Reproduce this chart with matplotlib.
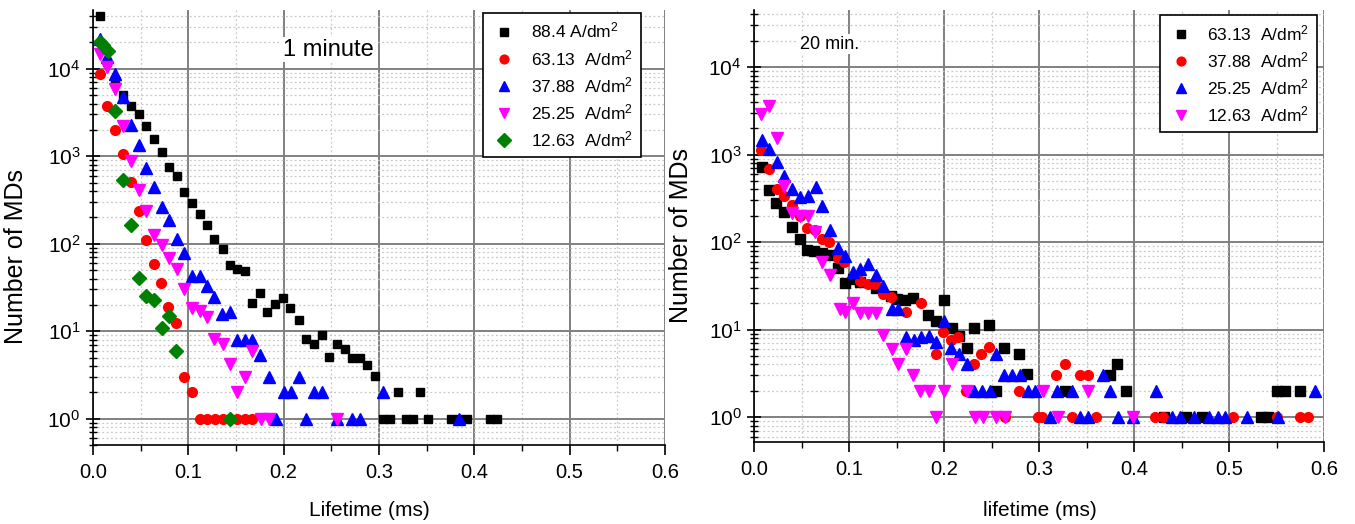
import numpy as np
import matplotlib
matplotlib.use('Agg')
import matplotlib.pyplot as plt
from matplotlib.ticker import LogLocator, MultipleLocator, NullFormatter

plt.rcParams['font.family'] = ['Liberation Sans', 'DejaVu Sans']
plt.rcParams['mathtext.default'] = 'regular'

# ---- left panel: 1 minute ----
x_884 = [0.007, 0.015, 0.023, 0.031, 0.040, 0.048, 0.056, 0.064, 0.072, 0.080,
         0.088, 0.096, 0.104, 0.112, 0.120, 0.127, 0.136, 0.144, 0.151, 0.159,
         0.167, 0.175, 0.183, 0.191, 0.199, 0.207, 0.216, 0.224, 0.232, 0.240,
         0.248, 0.256, 0.264, 0.272, 0.280, 0.288, 0.296, 0.304, 0.312, 0.320,
         0.328, 0.336, 0.343, 0.351, 0.376, 0.384, 0.392, 0.416, 0.424]
y_884 = [39800, 12000, 7400, 5000, 3800, 3000, 2240, 1590, 1120, 760,
         595, 390, 290, 220, 163, 112, 87, 57, 51, 49,
         21, 27, 16.6, 20.4, 23.8, 18.4, 13.4, 8.2, 7.1, 9.1,
         5.1, 7.2, 6.2, 5, 5, 4.1, 3.1, 1, 1, 2,
         1, 1, 2, 1, 1, 1, 1, 1, 1]

x_6313a = [0.007, 0.015, 0.023, 0.031, 0.040, 0.048, 0.056, 0.064, 0.071, 0.079,
           0.087, 0.095, 0.104, 0.112, 0.120, 0.128, 0.136, 0.144, 0.151, 0.159,
           0.167]
y_6313a = [8700, 3800, 2000, 1050, 510, 237, 109, 59, 36, 18.7,
           12.3, 3, 2, 1, 1, 1, 1, 1, 1, 1,
           1]

x_3788a = [0.007, 0.015, 0.023, 0.031, 0.040, 0.048, 0.056, 0.064, 0.072, 0.080,
           0.088, 0.096, 0.104, 0.112, 0.120, 0.127, 0.135, 0.144, 0.151, 0.159,
           0.167, 0.175, 0.185, 0.192, 0.200, 0.208, 0.216, 0.224, 0.232, 0.240,
           0.256, 0.272, 0.280, 0.304, 0.384]
y_3788a = [21800, 13600, 8700, 4700, 2300, 1340, 740, 450, 265, 185,
           114, 79, 43, 43, 33, 24.4, 15.7, 16.6, 8, 8,
           8, 5.3, 3, 1, 2, 2, 3, 1, 2, 2,
           1, 1, 1, 2, 1]

x_2525a = [0.007, 0.015, 0.023, 0.031, 0.040, 0.048, 0.056, 0.064, 0.072, 0.080,
           0.088, 0.096, 0.104, 0.112, 0.120, 0.127, 0.136, 0.144, 0.151, 0.159,
           0.167, 0.176, 0.185, 0.256]
y_2525a = [14900, 10500, 5900, 2240, 890, 410, 237, 126, 97, 69,
           51, 30, 18.3, 17, 14.4, 8.1, 7.1, 4.2, 2, 3,
           6, 1, 1, 1]

x_1263a = [0.007, 0.011, 0.016, 0.023, 0.032, 0.040, 0.048, 0.056, 0.064, 0.072,
           0.080, 0.087, 0.144]
y_1263a = [20000, 18500, 16000, 3250, 535, 163, 40.6, 25.5, 22.7, 11,
           15, 5.9, 1]

# ---- right panel: 20 min ----
x_6313b = [0.008, 0.016, 0.023, 0.032, 0.040, 0.048, 0.056, 0.063, 0.071, 0.079,
           0.088, 0.096, 0.104, 0.112, 0.128, 0.144, 0.150, 0.159, 0.167, 0.1835,
           0.1916, 0.200, 0.208, 0.216, 0.224, 0.232, 0.247, 0.255, 0.263, 0.279,
           0.287, 0.327, 0.375, 0.382, 0.391, 0.431, 0.455, 0.471, 0.534, 0.541,
           0.550, 0.559, 0.575]
y_6313b = [720, 395, 277, 222, 150, 110, 81, 79, 76, 72,
           51, 34, 38, 35, 30, 24, 22.5, 21.6, 23, 14.8,
           12.4, 21.7, 10.4, 8.5, 6.1, 10.4, 11.4, 2, 6.1, 5.2,
           3.1, 2, 3, 4.1, 2, 1, 1, 1, 1, 1,
           2, 2, 2]

x_3788b = [0.007, 0.016, 0.024, 0.032, 0.040, 0.048, 0.0555, 0.064, 0.071, 0.079,
           0.088, 0.095, 0.112, 0.120, 0.127, 0.136, 0.144, 0.160, 0.176, 0.192,
           0.199, 0.207, 0.215, 0.223, 0.232, 0.239, 0.247, 0.264, 0.279, 0.299,
           0.303, 0.318, 0.327, 0.335, 0.343, 0.351, 0.360, 0.422, 0.430, 0.504,
           0.550, 0.575, 0.583]
y_3788b = [1140, 690, 410, 333, 268, 200, 147, 139, 110, 100,
           66, 59, 36, 33, 33, 25.7, 23.7, 15.8, 20.3, 5.2,
           9.5, 7.7, 8.3, 2, 4.1, 5.2, 6.3, 1, 2, 1,
           1, 3, 4.1, 1, 3, 3, 1, 1, 1, 1,
           1, 1, 1]

x_2525b = [0.008, 0.016, 0.0245, 0.032, 0.040, 0.048, 0.057, 0.065, 0.072, 0.080,
           0.088, 0.096, 0.104, 0.112, 0.120, 0.128, 0.136, 0.145, 0.152, 0.160,
           0.168, 0.176, 0.1846, 0.192, 0.200, 0.207, 0.216, 0.224, 0.231, 0.240,
           0.248, 0.255, 0.263, 0.271, 0.280, 0.288, 0.296, 0.311, 0.319, 0.335,
           0.343, 0.351, 0.367, 0.375, 0.383, 0.399, 0.423, 0.440, 0.448, 0.463,
           0.479, 0.488, 0.496, 0.519, 0.551, 0.5905]
y_2525b = [1480, 1150, 815, 575, 400, 325, 340, 425, 260, 138,
           85, 69, 45, 49, 56, 41.6, 31.5, 17, 17, 8.2,
           7.7, 8.3, 8.5, 7.3, 12.4, 6.1, 5.2, 4.1, 2, 2,
           2, 5.2, 3, 3, 3, 2, 2, 1, 2, 2,
           1, 1, 3, 2, 1, 1, 2, 1, 1, 1,
           1, 1, 1, 1, 1, 2]

x_1263b = [0.007, 0.016, 0.024, 0.032, 0.040, 0.048, 0.057, 0.064, 0.072, 0.080,
           0.090, 0.096, 0.1045, 0.112, 0.120, 0.128, 0.136, 0.145, 0.152, 0.160,
           0.167, 0.175, 0.184, 0.192, 0.200, 0.208, 0.224, 0.233, 0.241, 0.255,
           0.264, 0.304, 0.320, 0.351, 0.399]
y_1263b = [2950, 3600, 1550, 435, 215, 200, 200, 132, 60, 42,
           17, 15.8, 20.3, 15.5, 15.5, 15.5, 8.8, 6, 4, 6,
           3, 2, 2, 1, 2, 4, 2, 1, 1, 1,
           1, 2, 1, 2, 1]

fig = plt.figure(figsize=(13.55, 5.24), dpi=100)
ax1 = fig.add_axes([0.0686, 0.1508, 0.4221, 0.8302])
ax2 = fig.add_axes([0.5565, 0.1565, 0.4207, 0.8244])

def style(ax, ylim):
    ax.set_yscale('log')
    ax.set_xlim(0, 0.6)
    ax.set_ylim(*ylim)
    ax.xaxis.set_major_locator(MultipleLocator(0.1))
    ax.xaxis.set_minor_locator(MultipleLocator(0.05))
    ax.yaxis.set_major_locator(LogLocator(base=10, numticks=20))
    ax.yaxis.set_minor_locator(LogLocator(base=10, subs=np.arange(2, 10), numticks=20))
    ax.yaxis.set_minor_formatter(NullFormatter())
    ax.grid(which='major', color='#808080', lw=1.4, ls='-')
    ax.grid(which='minor', color='#c8c8c8', lw=0.9, ls=(0, (1.5, 2)))
    ax.set_axisbelow(True)
    for s in ['top', 'right']:
        ax.spines[s].set_visible(False)
    for s in ['left', 'bottom']:
        ax.spines[s].set_linewidth(1.2)
    ax.tick_params(axis='x', which='major', direction='out', length=7, width=1.2, labelsize=14.5, pad=6)
    ax.tick_params(axis='x', which='minor', direction='out', length=4, width=1.0)
    ax.tick_params(axis='y', which='major', direction='inout', length=10, width=1.2, labelsize=15, pad=4)
    ax.tick_params(axis='y', which='minor', direction='inout', length=6, width=1.0)
    ax.set_ylabel('Number of MDs', fontsize=18)

style(ax1, (0.5, 47000))
style(ax2, (0.52, 45000))

ax1.plot(x_884, y_884, ls='none', marker='s', ms=6, color='black', label='88.4 A/dm$^2$')
ax1.plot(x_6313a, y_6313a, ls='none', marker='o', ms=7, color='red', label='63.13  A/dm$^2$')
ax1.plot(x_3788a, y_3788a, ls='none', marker='^', ms=8.5, color='blue', label='37.88  A/dm$^2$')
ax1.plot(x_2525a, y_2525a, ls='none', marker='v', ms=8.5, color='magenta', label='25.25  A/dm$^2$')
ax1.plot(x_1263a, y_1263a, ls='none', marker='D', ms=7.5, color='green', label='12.63  A/dm$^2$')

ax2.plot(x_6313b, y_6313b, ls='none', marker='s', ms=6.5, color='black', label='63.13  A/dm$^2$')
ax2.plot(x_3788b, y_3788b, ls='none', marker='o', ms=7, color='red', label='37.88  A/dm$^2$')
ax2.plot(x_2525b, y_2525b, ls='none', marker='^', ms=8.5, color='blue', label='25.25  A/dm$^2$')
ax2.plot(x_1263b, y_1263b, ls='none', marker='v', ms=8.5, color='magenta', label='12.63  A/dm$^2$')

for ax, anchor in [(ax1, (0.958, 0.993)), (ax2, (0.988, 0.988))]:
    leg = ax.legend(loc='upper right', bbox_to_anchor=anchor, fontsize=12.5,
                    fancybox=False, framealpha=1, edgecolor='black',
                    labelspacing=0.42, handletextpad=0.8, borderpad=0.45,
                    handlelength=1.5, markerscale=0.9, borderaxespad=0)
    leg.get_frame().set_linewidth(1.2)

ax1.text(0.199, 10**4.22, '1 minute', fontsize=17, ha='left', va='center',
         bbox=dict(facecolor='white', edgecolor='none', pad=1))
ax2.text(0.048, 10**4.26, '20 min.', fontsize=13, ha='left', va='center',
         bbox=dict(facecolor='white', edgecolor='none', pad=1))

ax1.set_xlabel('Lifetime (ms)', fontsize=15)
ax2.set_xlabel('lifetime (ms)', fontsize=15)
ax1.xaxis.set_label_coords(0.484, -0.128)
ax2.xaxis.set_label_coords(0.502, -0.136)
ax1.yaxis.set_label_coords(-0.114, 0.434)
ax2.yaxis.set_label_coords(-0.107, 0.479)

fig.savefig('out.png', dpi=100)
